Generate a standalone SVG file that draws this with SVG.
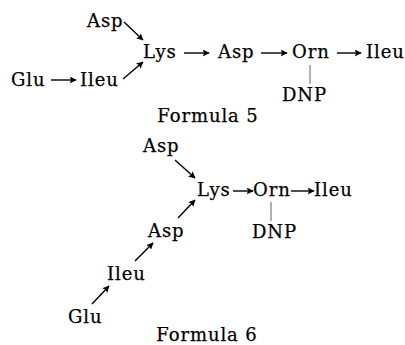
<svg xmlns="http://www.w3.org/2000/svg" width="405" height="345" viewBox="0 0 405 345">
<defs>
<marker id="ah" viewBox="0 0 10 10" refX="9" refY="5" markerWidth="7" markerHeight="7" markerUnits="userSpaceOnUse" orient="auto">
<path d="M0,0 L10,5 L0,10 L2,5 Z" fill="#000"/>
</marker>
<style>
text{font-family:"DejaVu Serif","Liberation Serif",serif;font-size:18px;fill:#000;stroke:#000;stroke-width:0.25;letter-spacing:0.9px}
.a{stroke:#000;stroke-width:1.4;fill:none;marker-end:url(#ah)}
.b{stroke:#555;stroke-width:0.9;fill:none}
</style>
</defs>
<rect width="405" height="345" fill="#fff"/>
<g id="f5-connectors">
<line class="a" x1="124" y1="22" x2="143" y2="40"/>
<line class="a" x1="123" y1="79" x2="143" y2="62"/>
<line class="a" x1="51" y1="80" x2="76" y2="80"/>
<line class="a" x1="184" y1="53" x2="209" y2="53"/>
<line class="a" x1="261" y1="53" x2="287" y2="53"/>
<line class="a" x1="337" y1="53" x2="361" y2="53"/>
<line class="b" x1="310" y1="65" x2="310" y2="84"/>
</g>
<g id="f5-asp1"><text x="87" y="27">Asp</text></g>
<g id="f5-lys"><text x="143" y="58">Lys</text></g>
<g id="f5-glu"><text x="11" y="86">Glu</text></g>
<g id="f5-ileu1"><text x="80" y="86">Ileu</text></g>
<g id="f5-asp2"><text x="218" y="58">Asp</text></g>
<g id="f5-orn"><text x="292" y="58">Orn</text></g>
<g id="f5-ileu2"><text x="366" y="58">Ileu</text></g>
<g id="f5-dnp"><text x="282" y="101">DNP</text></g>
<g id="f5-label"><text x="208" y="122" text-anchor="middle">Formula 5</text></g>
<g id="f6-connectors">
<line class="a" x1="175" y1="160" x2="195" y2="178"/>
<line class="a" x1="178" y1="218" x2="195" y2="200"/>
<line class="a" x1="135" y1="261" x2="153" y2="243"/>
<line class="a" x1="92" y1="304" x2="109" y2="286"/>
<line class="a" x1="233" y1="191" x2="253" y2="191"/>
<line class="a" x1="291" y1="191" x2="314" y2="191"/>
<line class="b" x1="271" y1="202" x2="271" y2="221"/>
</g>
<g id="f6-asp1"><text x="143" y="152">Asp</text></g>
<g id="f6-lys"><text x="197" y="196">Lys</text></g>
<g id="f6-orn"><text x="253" y="196">Orn</text></g>
<g id="f6-ileu2"><text x="314" y="196">Ileu</text></g>
<g id="f6-dnp"><text x="252" y="238">DNP</text></g>
<g id="f6-asp2"><text x="148" y="237">Asp</text></g>
<g id="f6-ileu1"><text x="107" y="280">Ileu</text></g>
<g id="f6-glu"><text x="68" y="323">Glu</text></g>
<g id="f6-label"><text x="207" y="341" text-anchor="middle">Formula 6</text></g>
</svg>
